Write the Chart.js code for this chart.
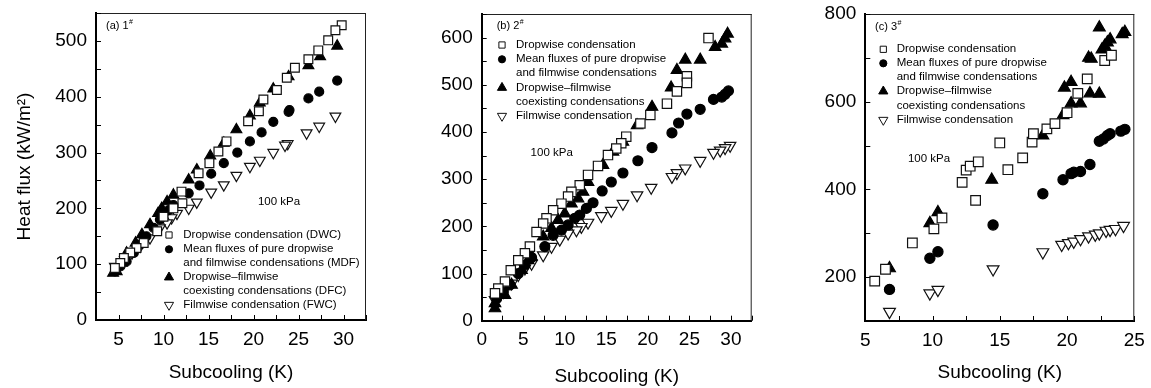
<!DOCTYPE html>
<html><head><meta charset="utf-8">
<script src="https://cdn.jsdelivr.net/npm/chart.js@4.4.0/dist/chart.umd.min.js"></script>
<style>
html,body{margin:0;padding:0;background:#fff;}
#wrap{position:relative;width:1151px;height:388px;overflow:hidden;background:#fff;}
canvas{position:absolute;top:0;}
</style></head><body>
<div id="wrap">
<canvas id="ca" width="380" height="388" style="left:0px;width:380px;height:388px"></canvas>
<canvas id="cb" width="390" height="388" style="left:380px;width:390px;height:388px"></canvas>
<canvas id="cc" width="381" height="388" style="left:770px;width:381px;height:388px"></canvas>
</div>
<script>
// ---------- DATA ----------
// Panel (a) 1#
const aDwcX = [29.8,29.1,28.3,27.2,26.1,24.6,23.7,22.6,21.1,20.6,19.4,17.0,16.1,15.1,13.9,12.0,12.1,11.1,10.0,9.3,7.8,7.0,6.3,5.6,5.2,4.6];
const aDwcY = [528,519,501,483,467,452,434,412,395,374,356,320,302,281,263,230,209,200,185,159,138,129,121,111,102,93];
const aMdfX = [29.3,27.3,26.1,24.0,23.9,22.2,20.9,19.6,18.2,16.7,15.3,14.0,12.8,11.1,10.6,10.0,9.6,8.9,8.1,7.4,6.7,5.9,5.2,4.6];
const aMdfY = [429,409,397,376,373,355,336,320,300,281,262,241,227,206,197,189,180,165,150,135,120,105,96,87];
const aDfcX = [29.3,27.4,26.1,23.9,22.2,20.7,19.6,18.1,16.7,15.2,13.7,12.8,11.1,10.4,9.8,9.4,8.5,7.6,6.9,5.9,5.4,4.8,4.4];
const aDfcY = [491,472,456,436,414,389,366,341,317,294,269,251,224,212,200,191,171,153,138,120,102,87,84];
const aFwcX = [29.1,27.3,25.9,23.8,23.5,22.2,20.7,19.6,18.1,16.7,15.3,13.7,12.8,11.5,10.9,10.4,9.6,8.5,7.4,6.5,5.7,4.6];
const aFwcY = [365,347,335,316,313,300,286,275,259,242,229,211,200,191,183,174,165,147,132,120,108,96];

// Panel (b) 2#
const bDwcX = [27.3,24.7,24.7,23.5,22.3,20.3,19.1,17.4,16.8,16.2,15.2,14.0,12.8,11.8,10.8,10.4,9.6,8.6,7.8,7.4,6.6,5.8,5.2,4.4,3.5,2.8,2.0,1.6];
const bDwcY = [599,518,504,486,460,436,418,390,376,365,351,328,309,287,273,263,248,234,217,206,188,157,143,128,107,83,68,58];
const bMdfX = [29.7,29.3,28.9,27.9,26.3,24.7,23.7,22.9,20.5,18.8,17.0,15.6,14.5,13.4,12.6,11.8,11.2,10.4,9.6,8.6,7.6,6.0,5.2,4.4,3.4,2.6,1.8];
const bMdfY = [487,480,474,469,448,438,419,398,367,339,313,294,275,250,238,224,217,203,192,181,157,134,118,100,76,61,47];
const bDfcX = [29.6,29.3,28.9,28.1,26.3,24.5,23.5,22.8,20.5,18.7,17.0,15.8,14.6,12.8,12.2,11.6,10.8,10.0,9.2,8.4,7.4,6.0,5.6,4.8,3.6,2.8,1.6,1.6];
const bDfcY = [608,598,587,580,553,553,531,494,453,414,379,358,330,294,273,259,248,227,213,196,178,136,128,107,76,54,37,26];
const bFwcX = [29.9,29.3,28.7,27.9,26.3,24.5,23.5,22.9,20.4,18.7,17.0,15.6,14.4,12.8,12.0,11.4,10.4,9.4,8.4,7.4,6.0,5.2,4.4,3.6,2.6,1.6];
const bFwcY = [371,366,361,356,339,323,313,305,282,266,248,233,222,208,199,192,185,172,157,139,121,111,97,79,61,44];

// Panel (c) 3#
const cDwcX = [5.7,6.5,8.5,10.1,10.7,12.2,12.5,12.8,13.4,13.2,15.0,15.6,16.7,17.4,17.5,18.5,19.1,20.0,20.8,21.5,22.8,23.3];
const cDwcY = [191,218,278,310,335,416,444,453,463,375,506,445,472,508,527,538,550,575,619,652,694,706];
const cMdfX = [6.8,9.8,10.4,14.5,18.2,19.7,20.3,20.5,21.0,21.7,22.4,22.7,23.0,23.2,24.0,24.3];
const cMdfY = [172,243,258,319,390,422,436,439,441,457,510,515,523,527,533,537];
const cDfcX = [6.8,9.8,10.4,14.4,18.2,19.7,20.3,21.0,19.8,20.3,21.6,21.8,21.7,22.4,22.4,22.6,23.0,23.2,24.1,24.3,22.8];
const cDfcY = [220,323,348,422,523,569,596,596,632,645,700,698,619,618,769,719,735,742,754,759,727];
const cFwcX = [6.8,9.8,10.4,14.5,18.2,19.6,20.1,20.5,21.0,21.6,22.1,22.4,22.9,23.2,23.6,24.2];
const cFwcY = [121,163,171,218,257,274,278,281,287,293,297,300,306,308,310,317];

// ---------- STYLE / HELPERS ----------
Chart.defaults.font.family = '"Liberation Sans", Arial, Helvetica, sans-serif';
Chart.defaults.color = '#000';

function pts(xs, ys){ return xs.map((x,i)=>({x:x, y:ys[i]})); }

const STYLES = {
  dwc:{pointStyle:'rect', rotation:0, fill:'#fff', stroke:'#111'},
  mdf:{pointStyle:'circle', rotation:0, fill:'#000', stroke:'#000'},
  dfc:{pointStyle:'triangle', rotation:0, fill:'#000', stroke:'#000'},
  fwc:{pointStyle:'triangle', rotation:180, fill:'#fff', stroke:'#111'}
};

function ds(key, xs, ys, r){
  const s = STYLES[key];
  return {data: pts(xs, ys), pointStyle: s.pointStyle, rotation: s.rotation,
    backgroundColor: s.fill, borderColor: s.stroke, borderWidth: 1.2,
    pointRadius: r, pointHoverRadius: r, showLine: false};
}

const decor = {
  id:'decor',
  afterDraw(chart, args, o){
    const ctx = chart.ctx, a = chart.chartArea, xs = chart.scales.x, ys = chart.scales.y;
    ctx.save();
    // top & right frame
    ctx.strokeStyle = '#222'; ctx.lineWidth = 1;
    ctx.beginPath();
    ctx.moveTo(a.left, a.top + 0.5); ctx.lineTo(a.right, a.top + 0.5);
    ctx.moveTo(a.right - 0.5, a.top); ctx.lineTo(a.right - 0.5, a.bottom);
    ctx.stroke();
    // inward ticks
    ctx.strokeStyle = '#000'; ctx.lineWidth = 1;
    ctx.beginPath();
    xs.ticks.forEach(t => { const p = Math.round(xs.getPixelForValue(t.value)) + 0.5; ctx.moveTo(p, a.bottom); ctx.lineTo(p, a.bottom - 5); });
    ys.ticks.forEach(t => { const p = Math.round(ys.getPixelForValue(t.value)) + 0.5; ctx.moveTo(a.left, p); ctx.lineTo(a.left + 5, p); });
    ctx.stroke();
    // panel label with superscript #
    ctx.fillStyle = '#000';
    ctx.textBaseline = 'middle'; ctx.textAlign = 'left';
    ctx.font = '11px "Liberation Sans", Arial, sans-serif';
    ctx.fillText(o.label, o.labelX, o.labelY);
    const w = ctx.measureText(o.label).width;
    ctx.font = '7px "Liberation Sans", Arial, sans-serif';
    ctx.fillText('#', o.labelX + w + 0.5, o.labelY - 4);
    // pressure note
    ctx.font = '11.5px "Liberation Sans", Arial, sans-serif';
    ctx.textAlign = 'center';
    ctx.fillText('100 kPa', o.kpaX, o.kpaY);
    // legend
    ctx.textAlign = 'left';
    ctx.font = '11.5px "Liberation Sans", Arial, sans-serif';
    let row = 0;
    o.legend.forEach(item => {
      const s = STYLES[item.key];
      const y = o.rows[row];
      ctx.fillStyle = s.fill; ctx.strokeStyle = s.stroke; ctx.lineWidth = 1;
      Chart.helpers.drawPoint(ctx, {pointStyle: s.pointStyle, rotation: s.rotation, radius: item.r, borderWidth: 1}, o.markerX, y);
      ctx.fillStyle = '#000';
      item.lines.forEach(line => { ctx.fillText(line, o.textX, o.rows[row]); row++; });
    });
    ctx.restore();
  }
};

function makePanel(id, p){
  const canvas = document.getElementById(id);
  const W = canvas.width, H = canvas.height;
  return new Chart(canvas, {
    type: 'scatter',
    data: {datasets: p.datasets},
    options: {
      responsive: false, animation: false, events: [],
      layout: {padding: {top: p.area.top, right: W - p.area.right, left: 0, bottom: 0}},
      plugins: {legend: {display: false}, tooltip: {enabled: false}, decor: p.decor},
      scales: {
        x: {
          type: 'linear', min: p.x.min, max: p.x.max,
          grid: {display: false, drawTicks: false},
          border: {display: true, color: '#000', width: 2},
          ticks: {stepSize: p.x.step, autoSkip: false, maxRotation: 0, padding: 8,
                  font: {size: 19}, color: '#000',
                  callback: v => (Math.abs(v % p.x.labelEvery) < 1e-9 ? String(v) : '')},
          title: {display: true, text: 'Subcooling (K)', font: {size: 19}, color: '#000',
                  padding: {top: 0, bottom: p.x.titlePad}},
          afterFit: s => { s.height = H - p.area.bottom; s.paddingLeft = 0; s.paddingRight = 0; }
        },
        y: {
          type: 'linear', min: p.y.min, max: p.y.max,
          grid: {display: false, drawTicks: false},
          border: {display: true, color: '#000', width: 2},
          ticks: {stepSize: p.y.step, autoSkip: false, padding: 9,
                  font: {size: 19}, color: '#000',
                  callback: v => (Math.abs(v % p.y.labelEvery) < 1e-9 ? String(v) : '')},
          title: {display: !!p.y.title, text: p.y.title || '', font: {size: 19}, color: '#000',
                  padding: {top: p.y.titlePad || 0, bottom: 0}},
          afterFit: s => { s.width = p.area.left; s.paddingTop = 0; s.paddingBottom = 0; }
        }
      }
    },
    plugins: [decor]
  });
}

const legendA = [
  {key:'dwc', r:4.4, lines:['Dropwise condensation (DWC)']},
  {key:'mdf', r:3.6, lines:['Mean fluxes of pure dropwise','and filmwise condensations (MDF)']},
  {key:'dfc', r:5.3, lines:['Dropwise\u2013filmwise','coexisting condensations (DFC)']},
  {key:'fwc', r:5.3, lines:['Filmwise condensation (FWC)']}
];
const legendBC = [
  {key:'dwc', r:4.4, lines:['Dropwise condensation']},
  {key:'mdf', r:3.6, lines:['Mean fluxes of pure dropwise','and filmwise condensations']},
  {key:'dfc', r:5.3, lines:['Dropwise\u2013filmwise','coexisting condensations']},
  {key:'fwc', r:5.3, lines:['Filmwise condensation']}
];

makePanel('ca', {
  area: {left: 96, right: 366, top: 13, bottom: 320},
  x: {min: 2.5, max: 32.5, step: 2.5, labelEvery: 5, titlePad: 3.5},
  y: {min: 0, max: 550, step: 50, labelEvery: 100, title: 'Heat flux (kW/m\u00B2)', titlePad: 13.5},
  datasets: [ds('dwc', aDwcX, aDwcY, 6.2), ds('mdf', aMdfX, aMdfY, 4.5), ds('dfc', aDfcX, aDfcY, 6.2), ds('fwc', aFwcX, aFwcY, 6.2)],
  decor: {label:'(a) 1', labelX: 106, labelY: 26, kpaX: 279, kpaY: 201.7,
          markerX: 169, textX: 183.3, rows: [235, 249.3, 263.3, 277.3, 291.3, 305], legend: legendA}
});

makePanel('cb', {
  area: {left: 101.7, right: 371.7, top: 14, bottom: 320.7},
  x: {min: 0, max: 32.5, step: 2.5, labelEvery: 5, titlePad: 0},
  y: {min: 0, max: 650, step: 50, labelEvery: 100},
  datasets: [ds('dwc', bDwcX, bDwcY, 6.6), ds('mdf', bMdfX, bMdfY, 5), ds('dfc', bDfcX, bDfcY, 6.6), ds('fwc', bFwcX, bFwcY, 6.6)],
  decor: {label:'(b) 2', labelX: 116.7, labelY: 26, kpaX: 171.7, kpaY: 152.7,
          markerX: 122, textX: 136, rows: [45, 59.3, 73.3, 87.7, 101.7, 116], legend: legendBC}
});

makePanel('cc', {
  area: {left: 95.3, right: 364.3, top: 14, bottom: 321},
  x: {min: 5, max: 25, step: 2.5, labelEvery: 5, titlePad: 3.5},
  y: {min: 100, max: 800, step: 100, labelEvery: 200},
  datasets: [ds('dwc', cDwcX, cDwcY, 6.8), ds('mdf', cMdfX, cMdfY, 5.1), ds('dfc', cDfcX, cDfcY, 6.8), ds('fwc', cFwcX, cFwcY, 6.8)],
  decor: {label:'(c) 3', labelX: 105, labelY: 26.7, kpaX: 159, kpaY: 159.3,
          markerX: 113.3, textX: 126.7, rows: [49.3, 63.3, 77.3, 91.3, 106, 120], legend: legendBC}
});
</script>
</body></html>
